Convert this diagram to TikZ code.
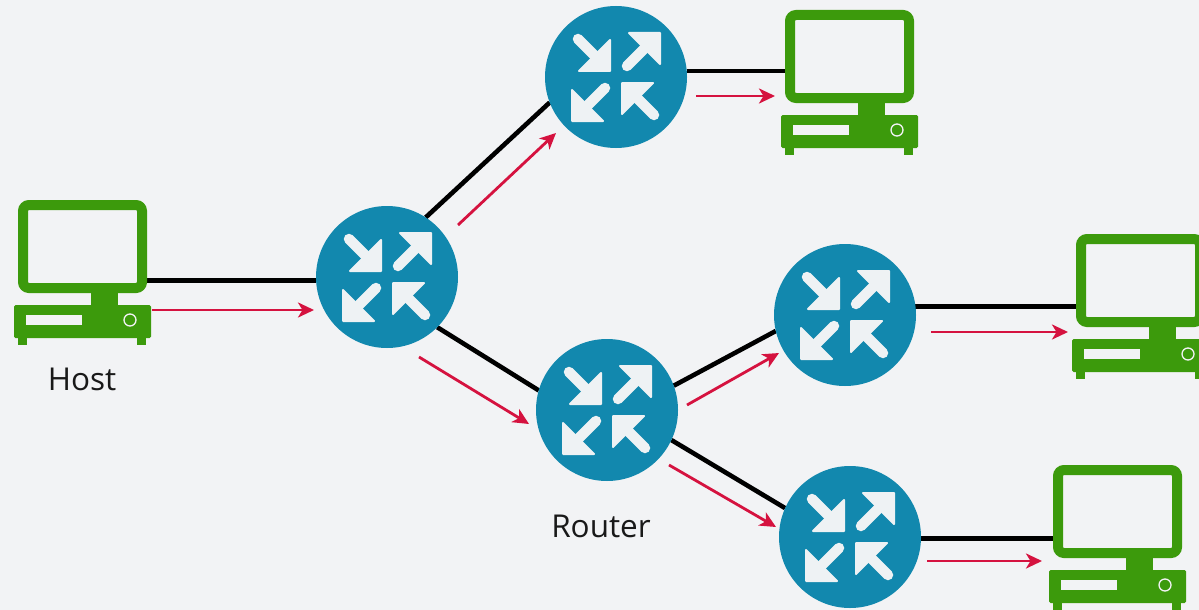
\documentclass[tikz,border=0pt]{standalone}
\usepackage{fontspec}
\setmainfont{Open Sans}
\usetikzlibrary{backgrounds,arrows.meta}
\definecolor{bgc}{HTML}{F2F3F5}
\definecolor{hostgreen}{HTML}{3C9A0C}
\definecolor{routerblue}{HTML}{1288AE}
\definecolor{flowred}{HTML}{D5123F}
\definecolor{arrowwhite}{HTML}{EEF2F4}
\tikzset{
  routernode/.style={circle,fill=routerblue,minimum size=142pt,inner sep=0pt,outer sep=0pt},
  screennode/.style={rectangle,rounded corners=6pt,draw=hostgreen,line width=10pt,fill=bgc,minimum width=119pt,minimum height=83pt,inner sep=0pt,outer sep=0pt},
  casenode/.style={rectangle,rounded corners=1.5pt,fill=hostgreen,minimum width=137pt,minimum height=33pt,inner sep=0pt,outer sep=0pt},
  wire/.style={draw=black,line width=4.6pt},
  flow/.style={draw=flowred,line width=2.8pt,-{Stealth[length=16pt,width=15pt,inset=4.5pt]}},
  lbl/.style={font=\fontsize{31.5}{38}\selectfont,text=black!90,inner sep=0pt},
  icon/.style={fill=arrowwhite,draw=arrowwhite,line width=2pt,line join=round},
  shaft/.style={draw=arrowwhite,line width=10.5pt,line cap=round}
}
\newcommand{\routerat}[3]{%
  \node[routernode] (#1) at (#2,#3) {};
  \begin{scope}[shift={(#2,#3)}]
    \fill[icon] (-6,-6) -- (-6,-37) -- (-37,-6) -- cycle;
    \draw[shaft] (-38,-38) -- (-16,-16);
    \fill[icon] (44,-44) -- (44,-13) -- (13,-44) -- cycle;
    \draw[shaft] (11,-11) -- (32,-32);
    \fill[icon] (-44,44) -- (-44,13) -- (-13,44) -- cycle;
    \draw[shaft] (-11,11) -- (-32,32);
    \fill[icon] (6,6) -- (6,37) -- (37,6) -- cycle;
    \draw[shaft] (38,38) -- (16,16);
  \end{scope}}
\newcommand{\computerat}[3]{%
  \begin{scope}[shift={(#2,#3)}]
    \fill[hostgreen] (73,90) rectangle (100,108);
    \fill[hostgreen] (0,135) rectangle (9,145);
    \fill[hostgreen] (119,135) rectangle (128,145);
    \node[screennode] (#1) at (64.5,46.5) {};
    \node[casenode] (#1case) at (64.5,121.5) {};
    \fill[bgc] (8,115) rectangle (64,125);
    \draw[bgc,line width=1.3pt] (112,120) circle (6);
  \end{scope}}
\begin{document}
\begin{tikzpicture}[x=1pt,y=-1pt]
  \useasboundingbox (0,0) rectangle (1199,610);

  \computerat{host}{18}{200}
  \computerat{pca}{785}{10}
  \computerat{pcb}{1076}{234}
  \computerat{pcc}{1053}{465}

  \routerat{ra}{387}{277}
  \routerat{rb}{616}{77}
  \routerat{rc}{607}{410}
  \routerat{rd}{845}{315}
  \routerat{re}{850}{537}

  \node[lbl] (hostlabel) at (82,379) {Host};
  \node[lbl] (routerlabel) at (601,526) {Router};

  \coordinate (f1s) at (152,310); \coordinate (f1e) at (314,310);
  \coordinate (f2s) at (696,96);  \coordinate (f2e) at (775,96);
  \coordinate (f3s) at (458,225); \coordinate (f3e) at (556,133);
  \coordinate (f4s) at (419,357); \coordinate (f4e) at (529,424);
  \coordinate (f5s) at (687,405); \coordinate (f5e) at (779,353);
  \coordinate (f6s) at (669,465); \coordinate (f6e) at (776,527);
  \coordinate (f7s) at (931,332); \coordinate (f7e) at (1068,332);
  \coordinate (f8s) at (927,561); \coordinate (f8e) at (1042,561);

  \begin{scope}[on background layer]
    \fill[bgc] (0,0) rectangle (1199,610);
    \draw[wire] (host.east |- ra.183) -- (ra.183);
    \draw[wire] (rb.5) -- (rb.5 -| pca.west);
    \draw[wire] (rd.7) -- (rd.7 -| pcb.west);
    \draw[wire] (re.-1) -- (re.-1 -| pcc.west);
    \draw[wire] (ra.57) -- (rb.201);
    \draw[wire] (ra.-45) -- (rc.164);
    \draw[wire] (rc.20) -- (rd.193.6);
    \draw[wire] (rc.335.6) -- (re.156.6);
  \end{scope}

  \draw[flow] (f1s) -- (f1e);
  \draw[flow] (f2s) -- (f2e);
  \draw[flow] (f3s) -- (f3e);
  \draw[flow] (f4s) -- (f4e);
  \draw[flow] (f5s) -- (f5e);
  \draw[flow] (f6s) -- (f6e);
  \draw[flow] (f7s) -- (f7e);
  \draw[flow] (f8s) -- (f8e);
\end{tikzpicture}
\end{document}
